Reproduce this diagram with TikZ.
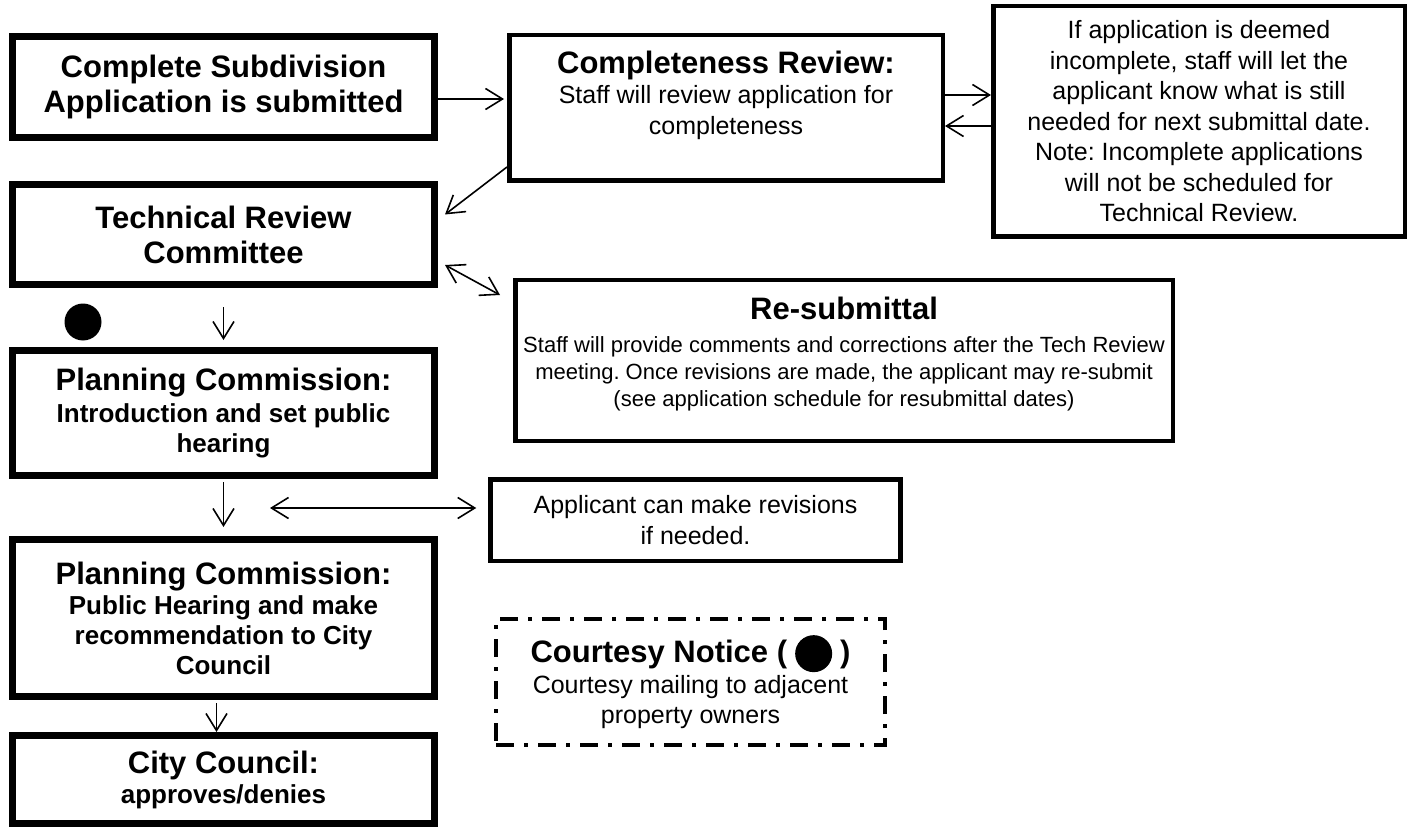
\documentclass[tikz,border=0pt]{standalone}
\usepackage{fontspec}
\setmainfont{Liberation Sans}
\usetikzlibrary{arrows.meta,positioning}
\frenchspacing

\newcommand{\ttlfont}{\fontsize{31}{35}\selectfont\bfseries}
\newcommand{\subfont}{\fontsize{26}{30}\selectfont\bfseries}
\newcommand{\bodyfont}{\fontsize{25}{30.5}\selectfont}
\newcommand{\smallfont}{\fontsize{22}{27}\selectfont}

\begin{document}
\begin{tikzpicture}[
    x=1pt, y=-1pt,
    stage/.style={rectangle, draw, line width=7pt, minimum width=422pt, text width=410pt, align=flush center, inner sep=0pt, font=\ttlfont},
    info/.style={rectangle, draw, line width=4.5pt, inner sep=0pt, align=flush center, font=\bodyfont},
    courtesy/.style={rectangle, draw, line width=4pt, dash pattern=on 18pt off 10pt on 4pt off 10pt, inner sep=0pt, align=flush center, font=\bodyfont},
    dot/.style={circle, fill, minimum size=37pt, inner sep=0pt},
    arrow/.style={-{Straight Barb[length=17pt, width=21pt]}, line width=1.6pt},
    twoway/.style={{Straight Barb[length=17pt, width=21pt]}-{Straight Barb[length=17pt, width=21pt]}, line width=1.6pt}
]
\useasboundingbox (0,0) rectangle (1409,829);

% Main stages
\node[stage, minimum height=101pt] (submit) at (223.5,87) {Complete Subdivision\\ Application is submitted};
\node[stage, minimum height=100pt, below=40pt of submit] (trc) {Technical Review\\ Committee};
\node[stage, minimum height=125pt, below=59pt of trc] (pc1) {Planning Commission:\par\vspace{2pt}{\subfont Introduction and set public\\ hearing\par}};
\node[stage, minimum height=157pt, below=57pt of pc1] (pc2) {Planning Commission:\par{\subfont Public Hearing and make\\ recommendation to City\\ Council\par}};
\node[stage, minimum height=88pt, below=32pt of pc2] (cc) {City Council:\par{\subfont approves/denies\par}};

% Side notes
\node[info, minimum width=433.5pt, minimum height=145.5pt, text width=425pt, right=69pt of submit.north east, anchor=north west] (review) {{\ttlfont Completeness Review:\par}Staff will review application for\\ completeness\\ \mbox{}};
\node[info, minimum width=411.5pt, minimum height=230.5pt, text width=405pt] (note) at (1199,121.5) {If application is deemed\\ incomplete, staff will let the\\ applicant know what is still\\ needed for next submittal date.\\ Note: Incomplete applications\\ will not be scheduled for\\ Technical Review.};
\node[info, minimum width=657.5pt, minimum height=160.5pt, text width=657pt] (resub) at (844,360.5) {{\ttlfont Re-submittal\par}\vspace{6pt}{\smallfont Staff will provide comments and corrections after the Tech Review\\ meeting. Once revisions are made, the applicant may re-submit\\ (see application schedule for resubmittal dates)\par}\kern13pt};
\node[info, minimum width=410pt, minimum height=81.5pt, text width=400pt] (revise) at (695.5,520) {Applicant can make revisions\\ if needed.};
\node[courtesy, minimum width=389pt, minimum height=126pt, text width=380pt] (mailing) at (690.5,682) {{\ttlfont Courtesy Notice (\hspace{8pt}\tikz[baseline=-9pt]\fill (0,0) circle (18.5pt);\hspace{8pt})\par}Courtesy mailing to adjacent\\ property owners};

% Courtesy notice marker
\node[dot] (notice) at (83,322) {};
\coordinate (split) at (270,508);

% Arrows
\draw[arrow, shorten >=3pt] ([yshift=-12pt]submit.east) -- ([yshift=-12pt]submit.east -| review.west);
\draw[arrow] ([yshift=13pt]review.east) -- ([yshift=13pt]review.east -| note.west);
\draw[arrow] ([yshift=-18pt]review.east -| note.west) -- ([yshift=-18pt]review.east);
\draw[arrow] ([yshift=16pt]review.south west) -- ([xshift=7pt,yshift=20pt]trc.east);
\draw[twoway] ([xshift=7pt,yshift=23pt]trc.south east) -- ([xshift=-13pt,yshift=-17pt]resub.north west);
\draw[arrow, shorten <=19pt, shorten >=7pt] (trc) -- (pc1);
\draw[arrow, shorten <=3pt, shorten >=9pt] (pc1) -- (pc2);
\draw[twoway, shorten >=12pt] (split) -- (split -| revise.west);
\draw[arrow, shorten <=3pt] ([xshift=-7pt]pc2.south) -- ([xshift=-7pt]cc.north);

\end{tikzpicture}
\end{document}
